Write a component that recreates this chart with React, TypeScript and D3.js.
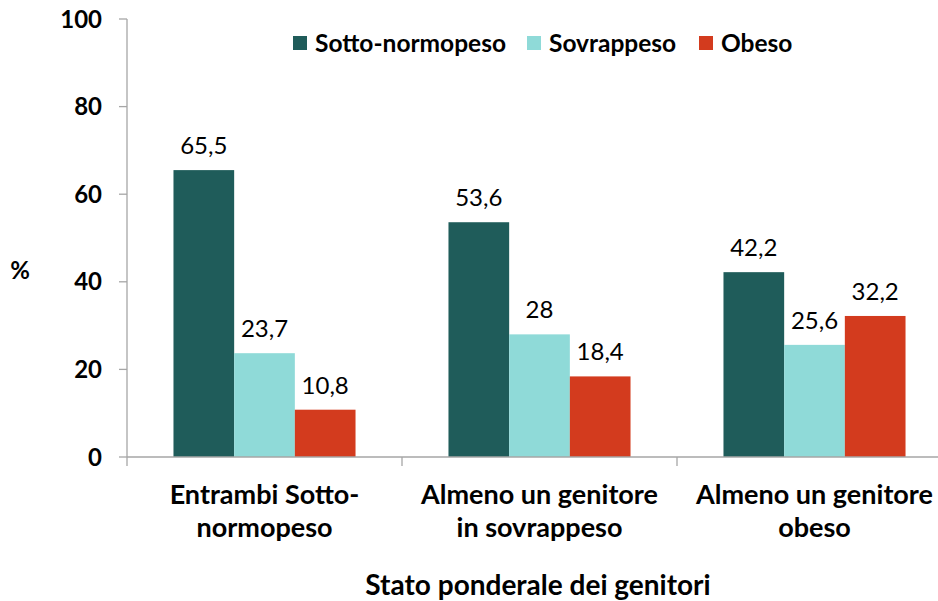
import React from "react";
import * as d3 from "d3";

const categories = [
  ["Entrambi Sotto-", "normopeso"],
  ["Almeno un genitore", "in sovrappeso"],
  ["Almeno un genitore", "obeso"],
];
const seriesNames = ["Sotto-normopeso", "Sovrappeso", "Obeso"];
const sottoNormopeso = [65.5, 53.6, 42.2];
const sovrappeso = [23.7, 28, 25.6];
const obeso = [10.8, 18.4, 32.2];
const yTicks = [0, 20, 40, 60, 80, 100];
const colors = ["#1f5c5a", "#8fdad8", "#d33b1e"];

const W = 938;
const H = 601;
const FONT = "Lato, 'Open Sans', sans-serif";

export default function App() {
  const series = [sottoNormopeso, sovrappeso, obeso];
  const left = 127;
  const top = 19;
  const bottom = 457;
  const right = 952;
  const y = d3.scaleLinear().domain([0, 100]).range([bottom, top]);
  const x0 = d3
    .scaleBand<number>()
    .domain(categories.map((_, i) => i))
    .range([left, right])
    .paddingInner(0)
    .paddingOuter(0);
  const inner = 0.169;
  const x1 = d3
    .scaleBand<number>()
    .domain(seriesNames.map((_, i) => i))
    .range([x0.bandwidth() * inner, x0.bandwidth() * (1 - inner)]);
  const fmt = (v: number) => String(v).replace(".", ",");
  const legendX = [293, 527, 699];

  return (
    <svg
      width={W}
      height={H}
      style={{ position: "absolute", left: 0, top: 0, background: "#fff" }}
      fontFamily={FONT}
    >
      {/* y axis */}
      <line x1={left} x2={left} y1={top} y2={bottom} stroke="#a6a6a6" strokeWidth={1.3} />
      {yTicks.map((t) => (
        <g key={t}>
          <line x1={left - 8} x2={left} y1={y(t)} y2={y(t)} stroke="#a6a6a6" strokeWidth={1.3} />
          <text
            x={102}
            y={y(t)}
            dy="0.36em"
            textAnchor="end"
            fontSize={24}
            fontWeight="bold"
            fill="#000"
          >
            {t}
          </text>
        </g>
      ))}
      <text x={20} y={270} dy="0.36em" textAnchor="middle" fontSize={24} fontWeight="bold">
        %
      </text>

      {/* bars */}
      {categories.map((_, ci) => (
        <g key={ci} transform={`translate(${x0(ci)},0)`}>
          {series.map((s, si) => (
            <g key={si}>
              <rect
                x={x1(si)}
                y={y(s[ci])}
                width={x1.bandwidth()}
                height={bottom - y(s[ci])}
                fill={colors[si]}
              />
              <text
                x={(x1(si) as number) + x1.bandwidth() / 2}
                y={y(s[ci]) - 16}
                textAnchor="middle"
                fontSize={24}
                fill="#000"
              >
                {fmt(s[ci])}
              </text>
            </g>
          ))}
        </g>
      ))}

      {/* x axis */}
      <line x1={left} x2={W} y1={bottom} y2={bottom} stroke="#a6a6a6" strokeWidth={1.3} />
      {categories.map((_, ci) => (
        <line
          key={ci}
          x1={x0(ci) as number}
          x2={x0(ci) as number}
          y1={bottom}
          y2={bottom + 9}
          stroke="#a6a6a6"
          strokeWidth={1.3}
        />
      ))}
      <line x1={right} x2={right} y1={bottom} y2={bottom + 9} stroke="#a6a6a6" strokeWidth={1.3} />
      {categories.map((lines, ci) => (
        <text
          key={ci}
          x={(x0(ci) as number) + x0.bandwidth() / 2}
          textAnchor="middle"
          fontSize={27}
          fontWeight="bold"
        >
          {lines.map((l, li) => (
            <tspan key={li} x={(x0(ci) as number) + x0.bandwidth() / 2} y={504 + li * 33}>
              {l}
            </tspan>
          ))}
        </text>
      ))}
      <text x={538} y={595} textAnchor="middle" fontSize={28} fontWeight="bold">
        Stato ponderale dei genitori
      </text>

      {/* legend */}
      {seriesNames.map((n, i) => (
        <g key={n}>
          <rect x={legendX[i]} y={36} width={14} height={14} fill={colors[i]} />
          <text x={legendX[i] + 22} y={43} dy="0.36em" fontSize={24.5} fontWeight="bold">
            {n}
          </text>
        </g>
      ))}
    </svg>
  );
}
